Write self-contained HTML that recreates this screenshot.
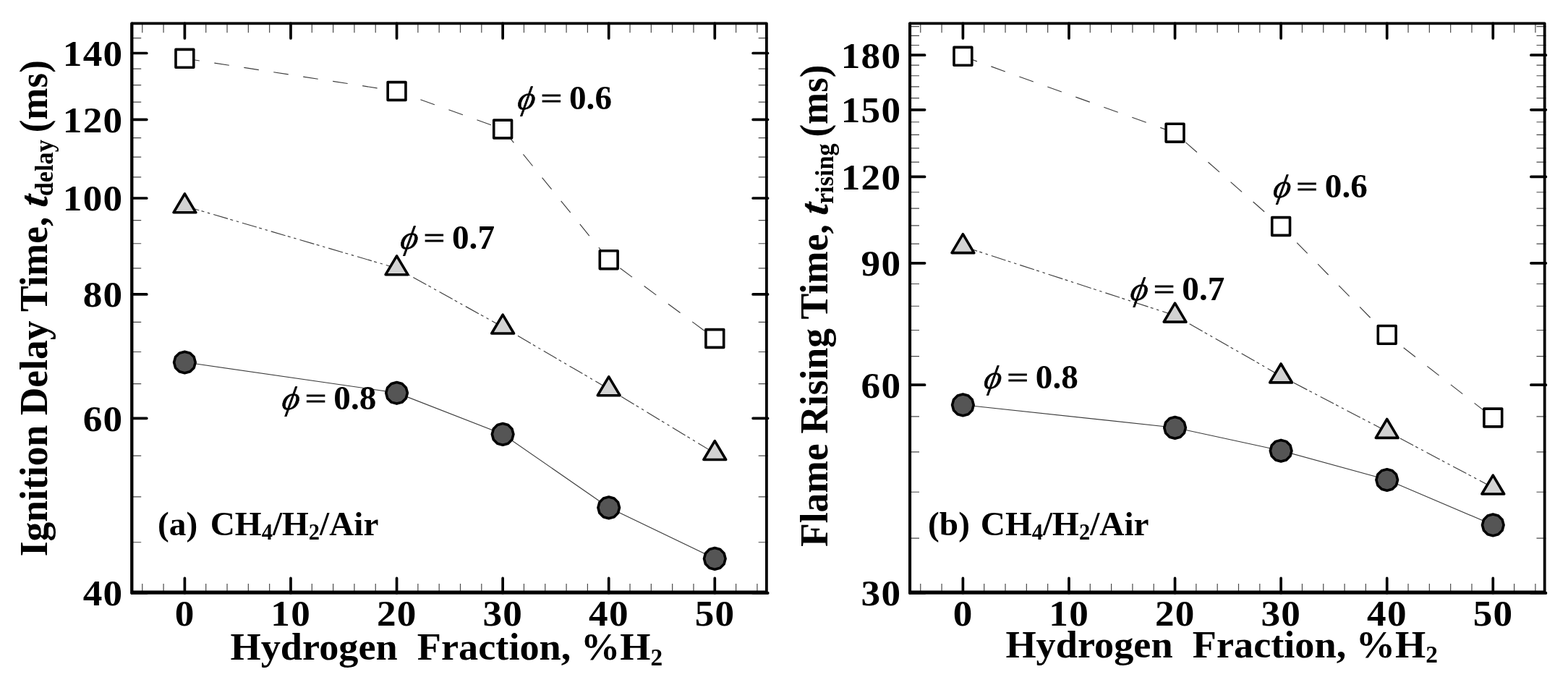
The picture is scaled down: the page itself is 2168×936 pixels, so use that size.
<!DOCTYPE html>
<html lang="en"><head><meta charset="utf-8"><title>Ignition delay and flame rising time</title>
<style>html,body{margin:0;padding:0;background:#fff}body{width:2168px;height:936px;overflow:hidden}svg{display:block}</style>
</head><body>
<svg width="2168" height="936" viewBox="0 0 2168 936">
<rect width="2168" height="936" fill="#fff"/>
<g class="panel">
<polyline points="255.4,80.8 548.56,126 695.14,178.5 841.72,359.2 988.3,468" fill="none" stroke="#3c3c3c" stroke-width="1.15" stroke-dasharray="20.72 20.72"/>
<polyline points="255.4,284.9 548.56,370.8 695.14,452.1 841.72,537.8 988.3,626.6" fill="none" stroke="#3c3c3c" stroke-width="1.15" stroke-dasharray="20.7 3.4 4 4.8 3.4 5.14"/>
<polyline points="255.4,500.8 548.56,543.1 695.14,600.2 841.72,701.7 988.3,772.2" fill="none" stroke="#3c3c3c" stroke-width="1.15"/>
<g stroke="#4a4a4a" stroke-width="1.2" fill="none">
<path d="M196.77 32.4v12.9M196.77 819.9v-12.9M226.08 32.4v12.9M226.08 819.9v-12.9M284.72 32.4v12.9M284.72 819.9v-12.9M314.03 32.4v12.9M314.03 819.9v-12.9M343.35 32.4v12.9M343.35 819.9v-12.9M372.66 32.4v12.9M372.66 819.9v-12.9M431.3 32.4v12.9M431.3 819.9v-12.9M460.61 32.4v12.9M460.61 819.9v-12.9M489.93 32.4v12.9M489.93 819.9v-12.9M519.24 32.4v12.9M519.24 819.9v-12.9M577.88 32.4v12.9M577.88 819.9v-12.9M607.19 32.4v12.9M607.19 819.9v-12.9M636.51 32.4v12.9M636.51 819.9v-12.9M665.82 32.4v12.9M665.82 819.9v-12.9M724.46 32.4v12.9M724.46 819.9v-12.9M753.77 32.4v12.9M753.77 819.9v-12.9M783.09 32.4v12.9M783.09 819.9v-12.9M812.4 32.4v12.9M812.4 819.9v-12.9M871.04 32.4v12.9M871.04 819.9v-12.9M900.35 32.4v12.9M900.35 819.9v-12.9M929.67 32.4v12.9M929.67 819.9v-12.9M958.98 32.4v12.9M958.98 819.9v-12.9M1017.62 32.4v12.9M1017.62 819.9v-12.9M1046.93 32.4v12.9M1046.93 819.9v-12.9M182.3 749.73h12.9M1061.6 749.73h-12.9M182.3 686.95h12.9M1061.6 686.95h-12.9M182.3 630.17h12.9M1061.6 630.17h-12.9M182.3 530.64h12.9M1061.6 530.64h-12.9M182.3 486.48h12.9M1061.6 486.48h-12.9M182.3 445.38h12.9M1061.6 445.38h-12.9M182.3 370.8h12.9M1061.6 370.8h-12.9M182.3 336.75h12.9M1061.6 336.75h-12.9M182.3 304.54h12.9M1061.6 304.54h-12.9M182.3 244.91h12.9M1061.6 244.91h-12.9M182.3 217.19h12.9M1061.6 217.19h-12.9M182.3 190.71h12.9M1061.6 190.71h-12.9M182.3 141.03h12.9M1061.6 141.03h-12.9M182.3 117.66h12.9M1061.6 117.66h-12.9M182.3 95.17h12.9M1061.6 95.17h-12.9M182.3 52.6h12.9M1061.6 52.6h-12.9"/>
</g>
<g stroke="#000" stroke-width="3.7" stroke-linecap="round" fill="none">
<path d="M255.4 32.4v20.5M255.4 819.9v-20.5M401.98 32.4v20.5M401.98 819.9v-20.5M548.56 32.4v20.5M548.56 819.9v-20.5M695.14 32.4v20.5M695.14 819.9v-20.5M841.72 32.4v20.5M841.72 819.9v-20.5M988.3 32.4v20.5M988.3 819.9v-20.5M182.3 819.9h20.5M1061.6 819.9h-20.5M182.3 578.32h20.5M1061.6 578.32h-20.5M182.3 406.92h20.5M1061.6 406.92h-20.5M182.3 273.98h20.5M1061.6 273.98h-20.5M182.3 165.35h20.5M1061.6 165.35h-20.5M182.3 73.51h20.5M1061.6 73.51h-20.5"/>
</g>
<rect x="182.3" y="32.4" width="877.6" height="786.1" fill="none" stroke="#000" stroke-width="3.8" stroke-linejoin="round"/>
<line x1="182.3" y1="819.9" x2="1061.6" y2="819.9" stroke="#000" stroke-width="3.6" stroke-linecap="round"/>
<line x1="182.3" y1="32.4" x2="182.3" y2="819.9" stroke="#000" stroke-width="4" stroke-linecap="round"/>
<g stroke="#000" stroke-width="3.6" stroke-linejoin="round">
<rect x="243" y="68.4" width="24.8" height="24.8" fill="#fff"/>
<rect x="536.16" y="113.6" width="24.8" height="24.8" fill="#fff"/>
<rect x="682.74" y="166.1" width="24.8" height="24.8" fill="#fff"/>
<rect x="829.32" y="346.8" width="24.8" height="24.8" fill="#fff"/>
<rect x="975.9" y="455.6" width="24.8" height="24.8" fill="#fff"/>
<polygon points="255.4,267.9 270.8,293.8 240,293.8" fill="#d2d2d2"/>
<polygon points="548.56,353.8 563.96,379.7 533.16,379.7" fill="#d2d2d2"/>
<polygon points="695.14,435.1 710.54,461 679.74,461" fill="#d2d2d2"/>
<polygon points="841.72,520.8 857.12,546.7 826.32,546.7" fill="#d2d2d2"/>
<polygon points="988.3,609.6 1003.7,635.5 972.9,635.5" fill="#d2d2d2"/>
<polygon points="270.2,501 268.22,508.4 262.8,513.82 255.4,515.8 248,513.82 242.58,508.4 240.6,501 242.58,493.6 248,488.18 255.4,486.2 262.8,488.18 268.22,493.6" fill="#555"/>
<polygon points="563.36,543.3 561.38,550.7 555.96,556.12 548.56,558.1 541.16,556.12 535.74,550.7 533.76,543.3 535.74,535.9 541.16,530.48 548.56,528.5 555.96,530.48 561.38,535.9" fill="#555"/>
<polygon points="709.94,600.4 707.96,607.8 702.54,613.22 695.14,615.2 687.74,613.22 682.32,607.8 680.34,600.4 682.32,593 687.74,587.58 695.14,585.6 702.54,587.58 707.96,593" fill="#555"/>
<polygon points="856.52,701.9 854.54,709.3 849.12,714.72 841.72,716.7 834.32,714.72 828.9,709.3 826.92,701.9 828.9,694.5 834.32,689.08 841.72,687.1 849.12,689.08 854.54,694.5" fill="#555"/>
<polygon points="1003.1,772.4 1001.12,779.8 995.7,785.22 988.3,787.2 980.9,785.22 975.48,779.8 973.5,772.4 975.48,765 980.9,759.58 988.3,757.6 995.7,759.58 1001.12,765" fill="#555"/>
</g>
<g font-family='"Liberation Serif", "DejaVu Serif", serif' font-weight="bold" font-size="51.7" letter-spacing="1.2" fill="#000">
<text transform="translate(255.62 865) scale(1.03 1)" text-anchor="middle">0</text>
<text transform="translate(402.2 865) scale(1.03 1)" text-anchor="middle">10</text>
<text transform="translate(548.78 865) scale(1.03 1)" text-anchor="middle">20</text>
<text transform="translate(695.36 865) scale(1.03 1)" text-anchor="middle">30</text>
<text transform="translate(841.94 865) scale(1.03 1)" text-anchor="middle">40</text>
<text transform="translate(988.52 865) scale(1.03 1)" text-anchor="middle">50</text>
<text transform="translate(170.44 837.3) scale(1.03 1)" text-anchor="end">40</text>
<text transform="translate(170.44 595.72) scale(1.03 1)" text-anchor="end">60</text>
<text transform="translate(170.44 424.32) scale(1.03 1)" text-anchor="end">80</text>
<text transform="translate(170.44 291.38) scale(1.03 1)" text-anchor="end">100</text>
<text transform="translate(170.44 182.75) scale(1.03 1)" text-anchor="end">120</text>
<text transform="translate(170.44 90.91) scale(1.03 1)" text-anchor="end">140</text>
</g>
<text transform="translate(318.5 912) scale(1.044 1.02)" font-family='"Liberation Serif", "DejaVu Serif", serif' font-weight="bold" font-size="52" style="white-space:pre">Hydrogen  Fraction, %H<tspan font-size="32" dy="7.6">2</tspan></text>
<g font-family='"Liberation Serif", "DejaVu Serif", serif' font-weight="bold" font-size="52">
<text transform="translate(65.2 769.3) rotate(-90) scale(1.03 1.05)" style="white-space:pre">Ignition Delay Time,</text>
<text transform="translate(65.2 287.3) rotate(-90) skewX(-7) scale(1.06 1.05)" font-style="italic" stroke="#000" stroke-width="0.7" stroke-linejoin="round">t</text>
<text transform="translate(73.2 271.2) rotate(-90) scale(1 1.05)" font-size="34.3">delay</text>
<text transform="translate(65.2 183.3) rotate(-90) scale(1.02 1.05)">(ms)</text>
</g>
<g font-family='"Liberation Serif", "DejaVu Serif", serif' font-size="47.2">
<text transform="translate(714 151.2) skewX(-10) scale(0.985 0.96)" font-style="italic" font-weight="normal" stroke="#000" stroke-width="0.7" stroke-linejoin="round">ϕ</text>
<text transform="translate(747.64 149.1) scale(1.096 0.79)" stroke="#000" stroke-width="1.3">=</text>
<text x="787" y="151.2" font-weight="bold">0.6</text>
</g>
<g font-family='"Liberation Serif", "DejaVu Serif", serif' font-size="47.2">
<text transform="translate(552 343.7) skewX(-10) scale(0.985 0.96)" font-style="italic" font-weight="normal" stroke="#000" stroke-width="0.7" stroke-linejoin="round">ϕ</text>
<text transform="translate(585.64 341.6) scale(1.096 0.79)" stroke="#000" stroke-width="1.3">=</text>
<text x="625" y="343.7" font-weight="bold">0.7</text>
</g>
<g font-family='"Liberation Serif", "DejaVu Serif", serif' font-size="47.2">
<text transform="translate(388.3 566.4) skewX(-10) scale(0.985 0.96)" font-style="italic" font-weight="normal" stroke="#000" stroke-width="0.7" stroke-linejoin="round">ϕ</text>
<text transform="translate(421.94 564.3) scale(1.096 0.79)" stroke="#000" stroke-width="1.3">=</text>
<text x="461.3" y="566.4" font-weight="bold">0.8</text>
</g>
<text x="218.1" y="740" font-family='"Liberation Serif", "DejaVu Serif", serif' font-weight="bold" font-size="47.3" style="white-space:pre">(a)<tspan dx="5.6"> CH</tspan><tspan font-size="30.5" dy="5.9">4</tspan><tspan dy="-5.9">/H</tspan><tspan font-size="30.5" dy="5.9">2</tspan><tspan dy="-5.9">/Air</tspan></text>
</g>
<g class="panel">
<polyline points="1331.4,77.8 1624.56,183.7 1771.14,313 1917.72,462.85 2064.3,577.5" fill="none" stroke="#3c3c3c" stroke-width="1.15" stroke-dasharray="20.72 20.72"/>
<polyline points="1331.4,340.7 1624.56,436.2 1771.14,520 1917.72,596.5 2064.3,674.1" fill="none" stroke="#3c3c3c" stroke-width="1.15" stroke-dasharray="20.7 3.4 4 4.8 3.4 5.14"/>
<polyline points="1331.4,559.7 1624.56,591.2 1771.14,623 1917.72,663.3 2064.3,725.7" fill="none" stroke="#3c3c3c" stroke-width="1.15"/>
<g stroke="#4a4a4a" stroke-width="1.2" fill="none">
<path d="M1272.77 32.4v12.9M1272.77 819.9v-12.9M1302.08 32.4v12.9M1302.08 819.9v-12.9M1360.72 32.4v12.9M1360.72 819.9v-12.9M1390.03 32.4v12.9M1390.03 819.9v-12.9M1419.35 32.4v12.9M1419.35 819.9v-12.9M1448.66 32.4v12.9M1448.66 819.9v-12.9M1507.3 32.4v12.9M1507.3 819.9v-12.9M1536.61 32.4v12.9M1536.61 819.9v-12.9M1565.93 32.4v12.9M1565.93 819.9v-12.9M1595.24 32.4v12.9M1595.24 819.9v-12.9M1653.88 32.4v12.9M1653.88 819.9v-12.9M1683.19 32.4v12.9M1683.19 819.9v-12.9M1712.51 32.4v12.9M1712.51 819.9v-12.9M1741.82 32.4v12.9M1741.82 819.9v-12.9M1800.46 32.4v12.9M1800.46 819.9v-12.9M1829.77 32.4v12.9M1829.77 819.9v-12.9M1859.09 32.4v12.9M1859.09 819.9v-12.9M1888.4 32.4v12.9M1888.4 819.9v-12.9M1947.04 32.4v12.9M1947.04 819.9v-12.9M1976.35 32.4v12.9M1976.35 819.9v-12.9M2005.67 32.4v12.9M2005.67 819.9v-12.9M2034.98 32.4v12.9M2034.98 819.9v-12.9M2093.62 32.4v12.9M2093.62 819.9v-12.9M2122.93 32.4v12.9M2122.93 819.9v-12.9M1258.1 744.22h12.9M2137.4 744.22h-12.9M1258.1 680.23h12.9M2137.4 680.23h-12.9M1258.1 624.8h12.9M2137.4 624.8h-12.9M1258.1 575.91h12.9M2137.4 575.91h-12.9M1258.1 492.61h12.9M2137.4 492.61h-12.9M1258.1 456.49h12.9M2137.4 456.49h-12.9M1258.1 423.26h12.9M2137.4 423.26h-12.9M1258.1 392.5h12.9M2137.4 392.5h-12.9M1258.1 337.07h12.9M2137.4 337.07h-12.9M1258.1 311.91h12.9M2137.4 311.91h-12.9M1258.1 288.18h12.9M2137.4 288.18h-12.9M1258.1 265.74h12.9M2137.4 265.74h-12.9M1258.1 224.19h12.9M2137.4 224.19h-12.9M1258.1 204.88h12.9M2137.4 204.88h-12.9M1258.1 186.43h12.9M2137.4 186.43h-12.9M1258.1 168.76h12.9M2137.4 168.76h-12.9M1258.1 135.54h12.9M2137.4 135.54h-12.9M1258.1 119.87h12.9M2137.4 119.87h-12.9M1258.1 104.77h12.9M2137.4 104.77h-12.9M1258.1 90.21h12.9M2137.4 90.21h-12.9M1258.1 62.52h12.9M2137.4 62.52h-12.9M1258.1 49.35h12.9M2137.4 49.35h-12.9M1258.1 36.57h12.9M2137.4 36.57h-12.9"/>
</g>
<g stroke="#000" stroke-width="3.7" stroke-linecap="round" fill="none">
<path d="M1331.4 32.4v20.5M1331.4 819.9v-20.5M1477.98 32.4v20.5M1477.98 819.9v-20.5M1624.56 32.4v20.5M1624.56 819.9v-20.5M1771.14 32.4v20.5M1771.14 819.9v-20.5M1917.72 32.4v20.5M1917.72 819.9v-20.5M2064.3 32.4v20.5M2064.3 819.9v-20.5M1258.1 819.9h20.5M2137.4 819.9h-20.5M1258.1 532.17h20.5M2137.4 532.17h-20.5M1258.1 363.86h20.5M2137.4 363.86h-20.5M1258.1 244.45h20.5M2137.4 244.45h-20.5M1258.1 151.82h20.5M2137.4 151.82h-20.5M1258.1 76.14h20.5M2137.4 76.14h-20.5"/>
</g>
<rect x="1258.1" y="32.4" width="877.6" height="786.1" fill="none" stroke="#000" stroke-width="3.8" stroke-linejoin="round"/>
<line x1="1258.1" y1="819.9" x2="2137.4" y2="819.9" stroke="#000" stroke-width="3.6" stroke-linecap="round"/>
<line x1="1258.1" y1="32.4" x2="1258.1" y2="819.9" stroke="#000" stroke-width="4" stroke-linecap="round"/>
<g stroke="#000" stroke-width="3.6" stroke-linejoin="round">
<rect x="1319" y="65.4" width="24.8" height="24.8" fill="#fff"/>
<rect x="1612.16" y="171.3" width="24.8" height="24.8" fill="#fff"/>
<rect x="1758.74" y="300.6" width="24.8" height="24.8" fill="#fff"/>
<rect x="1905.32" y="450.45" width="24.8" height="24.8" fill="#fff"/>
<rect x="2051.9" y="565.1" width="24.8" height="24.8" fill="#fff"/>
<polygon points="1331.4,323.7 1346.8,349.6 1316,349.6" fill="#d2d2d2"/>
<polygon points="1624.56,419.2 1639.96,445.1 1609.16,445.1" fill="#d2d2d2"/>
<polygon points="1771.14,503 1786.54,528.9 1755.74,528.9" fill="#d2d2d2"/>
<polygon points="1917.72,579.5 1933.12,605.4 1902.32,605.4" fill="#d2d2d2"/>
<polygon points="2064.3,657.1 2079.7,683 2048.9,683" fill="#d2d2d2"/>
<polygon points="1346.2,559.9 1344.22,567.3 1338.8,572.72 1331.4,574.7 1324,572.72 1318.58,567.3 1316.6,559.9 1318.58,552.5 1324,547.08 1331.4,545.1 1338.8,547.08 1344.22,552.5" fill="#555"/>
<polygon points="1639.36,591.4 1637.38,598.8 1631.96,604.22 1624.56,606.2 1617.16,604.22 1611.74,598.8 1609.76,591.4 1611.74,584 1617.16,578.58 1624.56,576.6 1631.96,578.58 1637.38,584" fill="#555"/>
<polygon points="1785.94,623.2 1783.96,630.6 1778.54,636.02 1771.14,638 1763.74,636.02 1758.32,630.6 1756.34,623.2 1758.32,615.8 1763.74,610.38 1771.14,608.4 1778.54,610.38 1783.96,615.8" fill="#555"/>
<polygon points="1932.52,663.5 1930.54,670.9 1925.12,676.32 1917.72,678.3 1910.32,676.32 1904.9,670.9 1902.92,663.5 1904.9,656.1 1910.32,650.68 1917.72,648.7 1925.12,650.68 1930.54,656.1" fill="#555"/>
<polygon points="2079.1,725.9 2077.12,733.3 2071.7,738.72 2064.3,740.7 2056.9,738.72 2051.48,733.3 2049.5,725.9 2051.48,718.5 2056.9,713.08 2064.3,711.1 2071.7,713.08 2077.12,718.5" fill="#555"/>
</g>
<g font-family='"Liberation Serif", "DejaVu Serif", serif' font-weight="bold" font-size="51.7" letter-spacing="1.2" fill="#000">
<text transform="translate(1331.62 865) scale(1.03 1)" text-anchor="middle">0</text>
<text transform="translate(1478.2 865) scale(1.03 1)" text-anchor="middle">10</text>
<text transform="translate(1624.78 865) scale(1.03 1)" text-anchor="middle">20</text>
<text transform="translate(1771.36 865) scale(1.03 1)" text-anchor="middle">30</text>
<text transform="translate(1917.94 865) scale(1.03 1)" text-anchor="middle">40</text>
<text transform="translate(2064.52 865) scale(1.03 1)" text-anchor="middle">50</text>
<text transform="translate(1246.24 837.3) scale(1.03 1)" text-anchor="end">30</text>
<text transform="translate(1246.24 549.57) scale(1.03 1)" text-anchor="end">60</text>
<text transform="translate(1246.24 381.26) scale(1.03 1)" text-anchor="end">90</text>
<text transform="translate(1246.24 261.85) scale(1.03 1)" text-anchor="end">120</text>
<text transform="translate(1246.24 169.22) scale(1.03 1)" text-anchor="end">150</text>
<text transform="translate(1246.24 93.54) scale(1.03 1)" text-anchor="end">180</text>
</g>
<text transform="translate(1390.4 908.6) scale(1.044 1.02)" font-family='"Liberation Serif", "DejaVu Serif", serif' font-weight="bold" font-size="52" style="white-space:pre">Hydrogen  Fraction, %H<tspan font-size="32" dy="7.6">2</tspan></text>
<g font-family='"Liberation Serif", "DejaVu Serif", serif' font-weight="bold" font-size="52">
<text transform="translate(1143.9 756) rotate(-90) scale(1.03 1.05)" style="white-space:pre">Flame Rising Time,</text>
<text transform="translate(1143.9 298.2) rotate(-90) skewX(-7) scale(1.06 1.05)" font-style="italic" stroke="#000" stroke-width="0.7" stroke-linejoin="round">t</text>
<text transform="translate(1151.9 282.1) rotate(-90) scale(1 1.05)" font-size="34.3">rising</text>
<text transform="translate(1143.9 189.6) rotate(-90) scale(1.02 1.05)">(ms)</text>
</g>
<g font-family='"Liberation Serif", "DejaVu Serif", serif' font-size="47.2">
<text transform="translate(1758.8 273) skewX(-10) scale(0.985 0.96)" font-style="italic" font-weight="normal" stroke="#000" stroke-width="0.7" stroke-linejoin="round">ϕ</text>
<text transform="translate(1792.44 270.9) scale(1.096 0.79)" stroke="#000" stroke-width="1.3">=</text>
<text x="1831.8" y="273" font-weight="bold">0.6</text>
</g>
<g font-family='"Liberation Serif", "DejaVu Serif", serif' font-size="47.2">
<text transform="translate(1561.3 414.9) skewX(-10) scale(0.985 0.96)" font-style="italic" font-weight="normal" stroke="#000" stroke-width="0.7" stroke-linejoin="round">ϕ</text>
<text transform="translate(1594.94 412.8) scale(1.096 0.79)" stroke="#000" stroke-width="1.3">=</text>
<text x="1634.3" y="414.9" font-weight="bold">0.7</text>
</g>
<g font-family='"Liberation Serif", "DejaVu Serif", serif' font-size="47.2">
<text transform="translate(1358.8 536.8) skewX(-10) scale(0.985 0.96)" font-style="italic" font-weight="normal" stroke="#000" stroke-width="0.7" stroke-linejoin="round">ϕ</text>
<text transform="translate(1392.44 534.7) scale(1.096 0.79)" stroke="#000" stroke-width="1.3">=</text>
<text x="1431.8" y="536.8" font-weight="bold">0.8</text>
</g>
<text x="1283.1" y="740" font-family='"Liberation Serif", "DejaVu Serif", serif' font-weight="bold" font-size="47.3" style="white-space:pre">(b)<tspan dx="3.0"> CH</tspan><tspan font-size="30.5" dy="5.9">4</tspan><tspan dy="-5.9">/H</tspan><tspan font-size="30.5" dy="5.9">2</tspan><tspan dy="-5.9">/Air</tspan></text>
</g>
</svg></body></html>
